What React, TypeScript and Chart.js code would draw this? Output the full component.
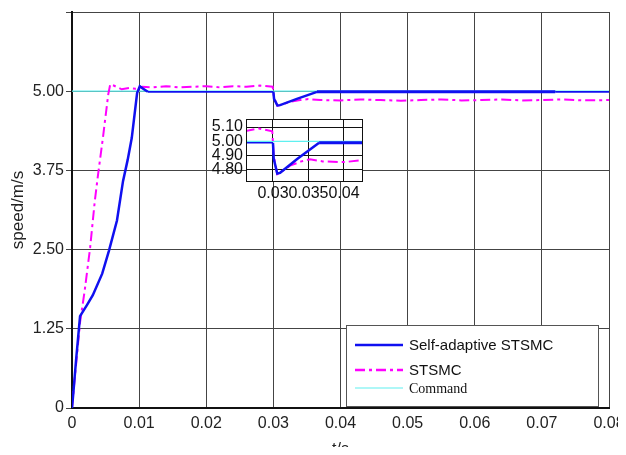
import React, { useEffect, useRef } from 'react';
import { Chart, registerables } from 'chart.js';
Chart.register(...registerables);

// ---------- data ----------
const commandT = [0, 0.08];
const commandV = [5.0, 5.0];

const adaptiveT = [0, 0.0002, 0.0006, 0.0012, 0.0022, 0.0031, 0.0045, 0.0055, 0.0067, 0.0076, 0.0083, 0.0089, 0.0097, 0.0101, 0.0106, 0.0113, 0.02, 0.03, 0.0301, 0.0306, 0.031, 0.0335, 0.0365, 0.05, 0.072, 0.08];
const adaptiveV = [0, 0.24, 0.75, 1.45, 1.62, 1.78, 2.12, 2.48, 2.96, 3.58, 3.92, 4.26, 4.97, 5.08, 5.04, 4.99, 4.99, 4.99, 4.88, 4.775, 4.78, 4.88, 4.99, 4.99, 4.99, 4.99];

const stsmcT = [0, 0.0003, 0.0008, 0.0012, 0.0019, 0.0027, 0.0034, 0.0039, 0.0046, 0.0054, 0.0057, 0.0062, 0.0068, 0.0074, 0.0085, 0.0095, 0.0105, 0.012, 0.014, 0.016, 0.018, 0.02, 0.022, 0.024, 0.026, 0.028, 0.0299, 0.0301, 0.0306, 0.031, 0.0324, 0.034, 0.0352, 0.037, 0.04, 0.043, 0.046, 0.049, 0.052, 0.055, 0.058, 0.061, 0.064, 0.067, 0.07, 0.073, 0.076, 0.08];
const stsmcV = [0, 0.35, 0.9, 1.35, 1.86, 2.53, 3.27, 3.7, 4.26, 4.95, 5.11, 5.09, 5.06, 5.03, 5.05, 5.04, 5.07, 5.06, 5.08, 5.06, 5.07, 5.08, 5.06, 5.08, 5.07, 5.09, 5.07, 4.9, 4.77, 4.78, 4.83, 4.86, 4.875, 4.86, 4.855, 4.87, 4.86, 4.85, 4.86, 4.87, 4.855, 4.86, 4.87, 4.855, 4.86, 4.87, 4.855, 4.86];

const seriesNames = ['Self-adaptive STSMC', 'STSMC', 'Command'];

const xTicks = [0, 0.01, 0.02, 0.03, 0.04, 0.05, 0.06, 0.07, 0.08];
const xTickLabels = ['0', '0.01', '0.02', '0.03', '0.04', '0.05', '0.06', '0.07', '0.08'];
const yTicks = [0, 1.25, 2.5, 3.75, 5.0, 6.25];
const yTickLabels = ['0', '1.25', '2.50', '3.75', '5.00', ''];

const insetXTicks = [0.03, 0.035, 0.04];
const insetXTickLabels = ['0.03', '0.035', '0.04'];
const insetYTicks = [4.8, 4.9, 5.0, 5.1];
const insetYTickLabels = ['4.80', '4.90', '5.00', '5.10'];

const xTitle = 't/s';
const yTitle = 'speed/m/s';

// ---------- styles ----------
const SANS = "'Liberation Sans', Arial, sans-serif";
const SERIF = "'Liberation Serif', 'Times New Roman', serif";
const BLUE = '#1010f0';
const MAGENTA = '#ff00ff';
const CYAN = '#5ff0f0';
const DASHDOT = [10, 4, 3, 4];

const pts = (t: number[], v: number[]) => t.map((x, i) => ({ x, y: v[i] }));

function makeDatasets() {
  return [
    {
      label: seriesNames[2],
      data: pts(commandT, commandV),
      borderColor: CYAN,
      borderWidth: 1.2,
      pointRadius: 0,
      order: 3,
    },
    {
      label: seriesNames[1],
      data: pts(stsmcT, stsmcV),
      borderColor: MAGENTA,
      borderWidth: 2,
      borderDash: DASHDOT,
      pointRadius: 0,
      order: 2,
    },
    {
      label: seriesNames[0],
      data: pts(adaptiveT, adaptiveV),
      borderColor: BLUE,
      borderWidth: 2.5,
      pointRadius: 0,
      order: 1,
      segment: {
        borderWidth: (ctx: any) => {
          const x0 = ctx.p0.parsed.x;
          if (x0 >= 0.0113 && x0 < 0.03) return 1.6;
          if (x0 >= 0.072) return 1.6;
          if (x0 >= 0.0365) return 3;
          return 2.5;
        },
      },
    },
  ];
}

const legendPlugin = {
  id: 'boxLegend',
  afterDraw(chart: any) {
    const ctx = chart.ctx;
    const ca = chart.chartArea;
    const bx = ca.right - 263;
    const by = ca.bottom - 83;
    const bw = 252;
    const bh = 81;
    ctx.save();
    ctx.fillStyle = '#ffffff';
    ctx.fillRect(bx, by, bw, bh);
    ctx.strokeStyle = '#555';
    ctx.lineWidth = 1;
    ctx.strokeRect(bx + 0.5, by + 0.5, bw, bh);
    const rows = [
      { y: by + 20, color: BLUE, width: 2.5, dash: [] as number[], text: seriesNames[0], font: `15px ${SANS}` },
      { y: by + 45, color: MAGENTA, width: 2.5, dash: DASHDOT, text: seriesNames[1], font: `15px ${SANS}` },
      { y: by + 63, color: CYAN, width: 1.2, dash: [] as number[], text: seriesNames[2], font: `14px ${SERIF}` },
    ];
    rows.forEach((r) => {
      ctx.beginPath();
      ctx.setLineDash(r.dash);
      ctx.strokeStyle = r.color;
      ctx.lineWidth = r.width;
      ctx.moveTo(bx + 9, r.y);
      ctx.lineTo(bx + 57, r.y);
      ctx.stroke();
      ctx.setLineDash([]);
      ctx.fillStyle = '#111';
      ctx.font = r.font;
      ctx.textBaseline = 'middle';
      ctx.textAlign = 'left';
      ctx.fillText(r.text, bx + 63, r.y + 1);
    });
    ctx.restore();
  },
};

const insetFramePlugin = {
  id: 'insetFrame',
  beforeDraw(chart: any) {
    const ca = chart.chartArea;
    const ctx = chart.ctx;
    ctx.save();
    ctx.fillStyle = '#ffffff';
    ctx.fillRect(ca.left, ca.top, ca.right - ca.left, ca.bottom - ca.top);
    ctx.restore();
  },
  afterDraw(chart: any) {
    const ca = chart.chartArea;
    const ctx = chart.ctx;
    ctx.save();
    ctx.strokeStyle = '#111';
    ctx.lineWidth = 1;
    ctx.strokeRect(Math.round(ca.left) + 0.5, Math.round(ca.top) + 0.5, Math.round(ca.right - ca.left), Math.round(ca.bottom - ca.top));
    ctx.restore();
  },
};

export default function App() {
  const mainRef = useRef<HTMLCanvasElement>(null);
  const insetRef = useRef<HTMLCanvasElement>(null);

  useEffect(() => {
    const main = new Chart(mainRef.current!, {
      type: 'line',
      data: { datasets: makeDatasets() as any },
      options: {
        animation: false,
        responsive: false,
        maintainAspectRatio: false,
        layout: { padding: { top: 12, right: 17, left: 0, bottom: 0 } },
        plugins: { legend: { display: false }, tooltip: { enabled: false } },
        elements: { point: { radius: 0 }, line: { tension: 0 } },
        scales: {
          x: {
            type: 'linear',
            min: 0,
            max: 0.08,
            afterBuildTicks: (s: any) => { s.ticks = xTicks.map((value) => ({ value })); },
            afterFit: (s: any) => { s.height = 47; s.paddingRight = 0; s.paddingLeft = 0; },
            ticks: {
              autoSkip: false,
              maxRotation: 0,
              padding: 6,
              color: '#222',
              font: { family: SANS, size: 16 },
              callback: (_v: any, i: number) => xTickLabels[i],
            },
            grid: { color: '#444', lineWidth: 1, drawTicks: false },
            border: { color: '#111', width: 2 },
            title: { display: true, text: xTitle, color: '#222', font: { family: SANS, size: 16 }, padding: { top: 0, bottom: -4 } },
          },
          y: {
            type: 'linear',
            min: 0,
            max: 6.25,
            afterBuildTicks: (s: any) => { s.ticks = yTicks.map((value) => ({ value })); },
            afterFit: (s: any) => { s.width = 72; s.paddingTop = 0; s.paddingBottom = 0; },
            ticks: {
              autoSkip: false,
              padding: 2,
              color: '#222',
              font: { family: SANS, size: 16 },
              callback: (_v: any, i: number) => yTickLabels[i],
            },
            grid: { color: '#444', lineWidth: 1, drawTicks: true, tickLength: 6 },
            border: { color: '#111', width: 2 },
            title: { display: true, text: yTitle, color: '#222', font: { family: SANS, size: 17 }, padding: { top: 8, bottom: 0 } },
          },
        },
      } as any,
      plugins: [legendPlugin],
    });

    const inset = new Chart(insetRef.current!, {
      type: 'line',
      data: { datasets: makeDatasets() as any },
      options: {
        animation: false,
        responsive: false,
        maintainAspectRatio: false,
        layout: { padding: { top: 11, right: 8, left: 0, bottom: 0 } },
        plugins: { legend: { display: false }, tooltip: { enabled: false } },
        elements: { point: { radius: 0 }, line: { tension: 0 } },
        scales: {
          x: {
            type: 'linear',
            min: 0.0262,
            max: 0.04254,
            afterBuildTicks: (s: any) => { s.ticks = insetXTicks.map((value) => ({ value })); },
            afterFit: (s: any) => { s.height = 23; s.paddingRight = 0; s.paddingLeft = 0; },
            ticks: {
              autoSkip: false,
              maxRotation: 0,
              padding: 3,
              color: '#111',
              font: { family: SANS, size: 16 },
              callback: (_v: any, i: number) => insetXTickLabels[i],
            },
            grid: { color: '#111', lineWidth: 1, drawTicks: false },
            border: { color: '#111', width: 1 },
          },
          y: {
            type: 'linear',
            min: 4.723,
            max: 5.156,
            afterBuildTicks: (s: any) => { s.ticks = insetYTicks.map((value) => ({ value })); },
            afterFit: (s: any) => { s.width = 56; s.paddingTop = 0; s.paddingBottom = 0; },
            ticks: {
              autoSkip: false,
              padding: 3,
              color: '#111',
              font: { family: SANS, size: 16 },
              callback: (_v: any, i: number) => insetYTickLabels[i],
            },
            grid: { color: '#111', lineWidth: 1, drawTicks: false },
            border: { color: '#111', width: 1 },
          },
        },
      } as any,
      plugins: [insetFramePlugin],
    });

    return () => {
      main.destroy();
      inset.destroy();
    };
  }, []);

  return (
    <div style={{ position: 'relative', width: 626, height: 455, margin: -8, background: '#fff' }}>
      <canvas ref={mainRef} width={626} height={455} style={{ position: 'absolute', left: 0, top: 0 }} />
      <canvas ref={insetRef} width={180} height={96} style={{ position: 'absolute', left: 190, top: 108 }} />
    </div>
  );
}
